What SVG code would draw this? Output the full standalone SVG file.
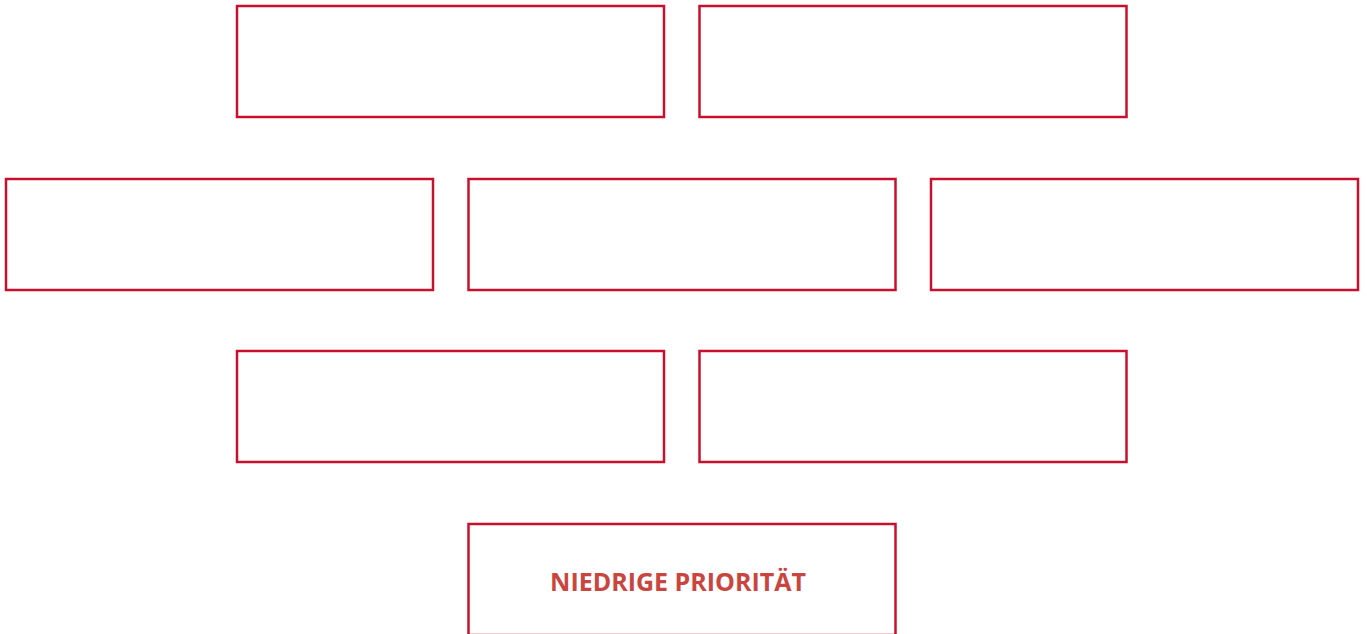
<svg xmlns="http://www.w3.org/2000/svg" width="1367" height="634" viewBox="0 0 1367 634">
<style>
.box{fill:#ffffff;stroke:#c8102e;stroke-width:2.5}
.lbl{font-family:"Open Sans","Liberation Sans",sans-serif;font-weight:700;font-size:25px;fill:#c9453e;text-anchor:middle}
</style>
<rect width="1367" height="634" fill="#ffffff"/>
<g id="node-1"><rect class="box" x="237" y="6" width="427" height="111"/></g>
<g id="node-2"><rect class="box" x="699.5" y="6" width="427" height="111"/></g>
<g id="node-3"><rect class="box" x="6" y="179" width="427" height="111"/></g>
<g id="node-4"><rect class="box" x="468.5" y="179" width="427" height="111"/></g>
<g id="node-5"><rect class="box" x="931" y="179" width="427" height="111"/></g>
<g id="node-6"><rect class="box" x="237" y="351" width="427" height="111"/></g>
<g id="node-7"><rect class="box" x="699.5" y="351" width="427" height="111"/></g>
<g id="node-8"><rect class="box" x="468.5" y="524" width="427" height="111"/><text class="lbl" x="678" y="591">NIEDRIGE PRIORITÄT</text></g>
<g id="connectors"></g>
</svg>
